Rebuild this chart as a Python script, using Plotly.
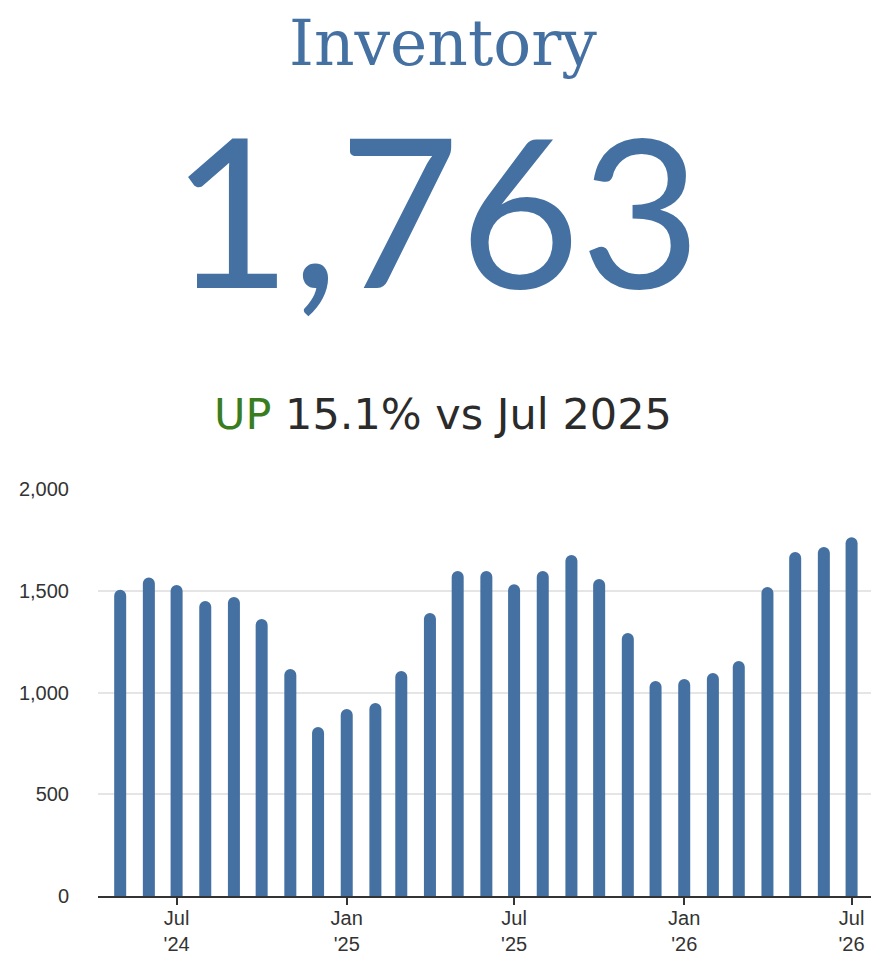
import plotly.graph_objects as go

months = ["2024-05-01","2024-06-01","2024-07-01","2024-08-01","2024-09-01","2024-10-01",
          "2024-11-01","2024-12-01","2025-01-01","2025-02-01","2025-03-01","2025-04-01",
          "2025-05-01","2025-06-01","2025-07-01","2025-08-01","2025-09-01","2025-10-01",
          "2025-11-01","2025-12-01","2026-01-01","2026-02-01","2026-03-01","2026-04-01",
          "2026-05-01","2026-06-01","2026-07-01"]
inventory = [1505, 1565, 1528, 1450, 1469, 1361,
             1115, 830, 919, 948, 1106, 1391,
             1597, 1597, 1532, 1597, 1676, 1558,
             1292, 1057, 1066, 1096, 1155, 1518,
             1690, 1715, 1763]
tick_vals = ["2024-07-01","2025-01-01","2025-07-01","2026-01-01","2026-07-01"]
tick_text = ["Jul<br>'24","Jan<br>'25","Jul<br>'25","Jan<br>'26","Jul<br>'26"]
y_ticks = [0, 500, 1000, 1500, 2000]
y_text = ["0", "500", "1,000", "1,500", "2,000"]

BLUE = "#4471a2"
OFF = 8  # page body margin
W, H = 886, 964
L, T = 98 - OFF, 489 - OFF
R = W - (871 - OFF)
B = H - (896 - OFF)
ph = H - T - B
pw = W - L - R

def py(y_px):
    return (H - B - (y_px - OFF)) / ph

def px(x_px):
    return ((x_px - OFF) - L) / pw

fig = go.Figure()
fig.add_trace(go.Bar(
    x=months, y=inventory,
    marker=dict(color=BLUE, cornerradius=6, line=dict(width=0)),
    width=12 * 86400000 * 30.4 / 28.1,
    hoverinfo="x+y",
))

fig.update_layout(
    width=W, height=H,
    margin=dict(l=L, r=R, t=T, b=B),
    paper_bgcolor="white", plot_bgcolor="white",
    showlegend=False,
    xaxis=dict(
        type="date",
        range=["2024-04-07", "2026-07-22"],
        tickvals=tick_vals, ticktext=tick_text,
        ticks="outside", ticklen=7, tickwidth=2, tickcolor="#333333",
        showline=True, linecolor="#333333", linewidth=2,
        showgrid=False, ticklabelstandoff=-4,
        tickfont=dict(family="Liberation Sans, Arial", size=20, color="#333333"),
    ),
    yaxis=dict(
        range=[0, 2000],
        tickvals=y_ticks, ticktext=y_text,
        showgrid=True, gridcolor="#e5e5e5", gridwidth=1.5,
        zeroline=False, showline=False,
        ticks="", ticklabelstandoff=28,
        tickfont=dict(family="Liberation Sans, Arial", size=20, color="#333333"),
    ),
    annotations=[
        dict(text="Inventory", xref="paper", yref="paper", x=px(443), y=py(44),
             xanchor="center", yanchor="middle", showarrow=False,
             font=dict(family="DejaVu Serif, serif", size=63, color=BLUE)),
        dict(text="1,763", xref="paper", yref="paper", x=px(436), y=py(207),
             xanchor="center", yanchor="middle", showarrow=False,
             font=dict(family="Lato, Inter, sans-serif", size=208, color=BLUE)),
        dict(text="<span style='color:#3a7d1f'>UP</span> 15.1% vs Jul 2025",
             xref="paper", yref="paper", x=px(443), y=py(414),
             xanchor="center", yanchor="middle", showarrow=False,
             font=dict(family="DejaVu Sans, sans-serif", size=43, color="#2b2b2b")),
    ],
)

fig.write_html("out.html")
